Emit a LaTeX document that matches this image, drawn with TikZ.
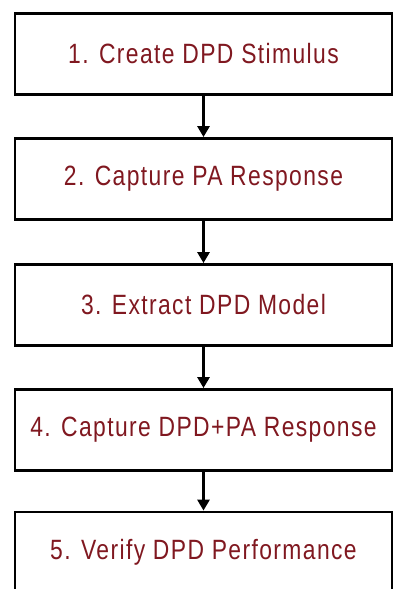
\documentclass[tikz,border=0pt]{standalone}
\usepackage{fontspec}
\setmainfont{Liberation Sans}[FakeStretch = 0.82, LetterSpace = 5]
\usetikzlibrary{arrows.meta}
\definecolor{steptext}{RGB}{128,24,32}
\tikzset{
	stepbox/.style = {draw, line width = 2.8pt, rectangle, minimum width = 377pt, minimum height = 81pt, inner sep = 0pt, text = steptext, font = \fontsize{27.9}{33}\selectfont},
	flow/.style = {line width = 2.8pt, -{Triangle[width = 12pt, length = 11pt]}}
}
\begin{document}
\begin{tikzpicture}[x = 1pt, y = -1pt]
\useasboundingbox (0,0) rectangle (394,589);
\foreach \n/\y/\txt in {1/54/{1. Create DPD Stimulus}, 2/179/{2. Capture PA Response}, 3/305/{3. Extract DPD Model}, 4/430/{4. Capture DPD+PA Response}, 5/552.5/{5. Verify DPD Performance}}
{
	\node[stepbox] (step\n) at (203.5,\y) {\txt};
}
\foreach \a/\b in {1/2,2/3,3/4,4/5}
{
	\draw[flow] (step\a) -- (step\b);
}
\end{tikzpicture}
\end{document}
